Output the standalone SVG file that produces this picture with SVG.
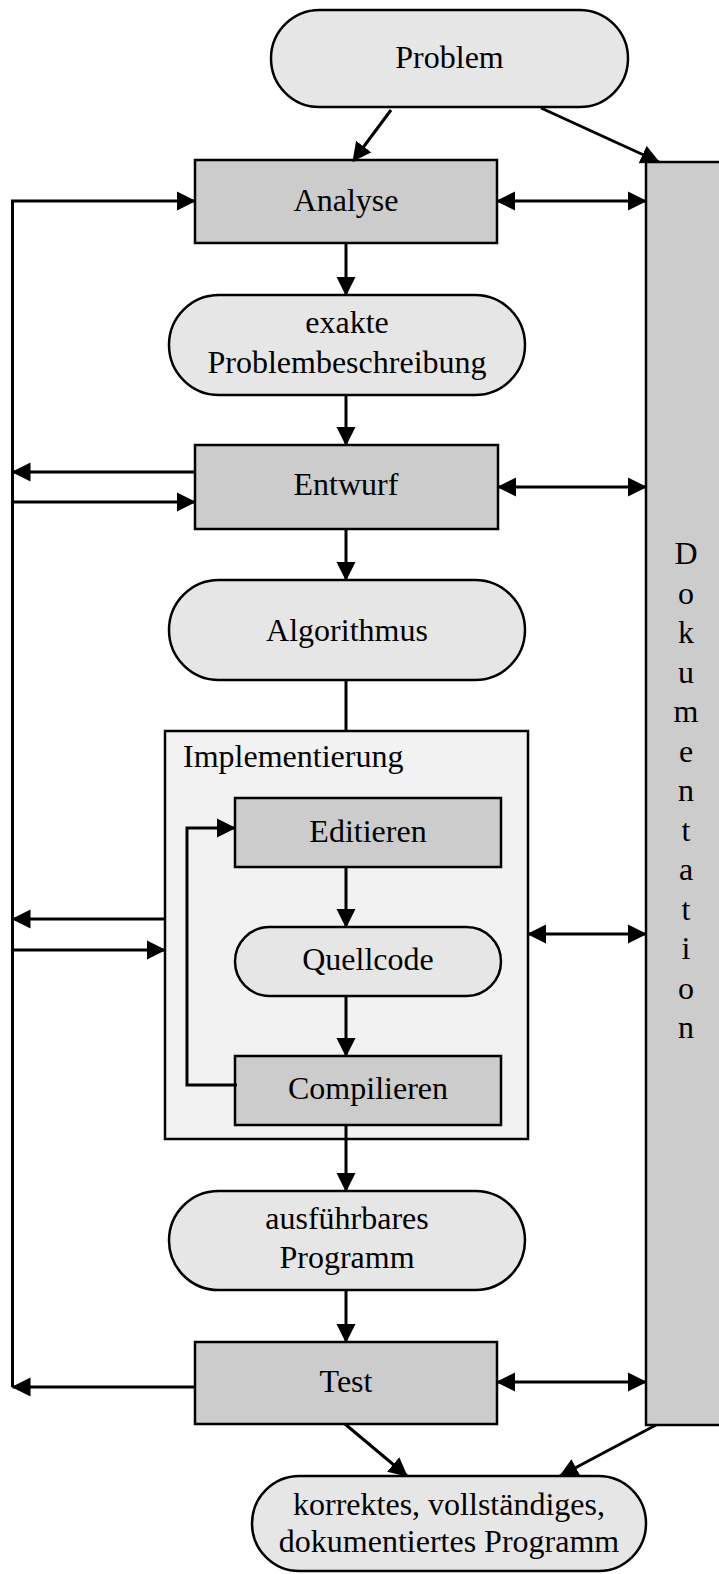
<svg xmlns="http://www.w3.org/2000/svg" width="719" height="1574" viewBox="0 0 719 1574">
  <style>
    .lbl { font-family: "Liberation Serif", "Times New Roman", serif; font-size: 32px; fill: #000; }
    .mid { text-anchor: middle; }
    .term { fill: #e6e6e6; stroke: #000; stroke-width: 2.5; }
    .step { fill: #cccccc; stroke: #000; stroke-width: 2.5; }
    .frame { fill: #f2f2f2; stroke: #000; stroke-width: 2.5; }
    .wire { fill: none; stroke: #000; stroke-width: 3; }
    .to { marker-end: url(#ah); }
    .both { marker-start: url(#ah); marker-end: url(#ah); }
  </style>
  <defs>
    <marker id="ah" markerUnits="userSpaceOnUse" viewBox="0 0 20 20" markerWidth="20" markerHeight="20" refX="18" refY="10" orient="auto-start-reverse">
      <path d="M0,0.5 L19,10 L0,19.5 z" fill="#000"/>
    </marker>
  </defs>

  <!-- documentation column on the right -->
  <g id="dokumentation">
    <rect class="step" x="646" y="162" width="90" height="1263"/>
    <g class="lbl mid">
      <text x="686" y="564">D</text>
      <text x="686" y="603.5">o</text>
      <text x="686" y="643">k</text>
      <text x="686" y="682.5">u</text>
      <text x="686" y="722">m</text>
      <text x="686" y="761.5">e</text>
      <text x="686" y="801">n</text>
      <text x="686" y="840.5">t</text>
      <text x="686" y="880">a</text>
      <text x="686" y="919.5">t</text>
      <text x="686" y="959">i</text>
      <text x="686" y="998.5">o</text>
      <text x="686" y="1038">n</text>
    </g>
  </g>

  <g id="problem">
    <rect class="term" x="271" y="10" width="357" height="97" rx="48.5"/>
    <text class="lbl mid" x="449.5" y="68">Problem</text>
  </g>

  <g id="analyse">
    <rect class="step" x="195" y="160" width="302" height="83"/>
    <text class="lbl mid" x="346" y="211">Analyse</text>
  </g>

  <g id="problembeschreibung">
    <rect class="term" x="169" y="295" width="356" height="100" rx="50"/>
    <text class="lbl mid" x="347" y="333">exakte</text>
    <text class="lbl mid" x="347" y="373">Problembeschreibung</text>
  </g>

  <g id="entwurf">
    <rect class="step" x="195" y="445" width="303" height="84"/>
    <text class="lbl mid" x="346" y="495">Entwurf</text>
  </g>

  <g id="algorithmus">
    <rect class="term" x="169" y="580" width="356" height="100" rx="50"/>
    <text class="lbl mid" x="347" y="641">Algorithmus</text>
  </g>

  <g id="implementierung">
    <rect class="frame" x="165" y="731" width="363" height="408"/>
    <text class="lbl" x="183" y="767">Implementierung</text>
  </g>

  <g id="editieren">
    <rect class="step" x="235" y="798" width="266" height="69"/>
    <text class="lbl mid" x="368" y="842">Editieren</text>
  </g>

  <g id="quellcode">
    <rect class="term" x="235" y="927" width="266" height="69" rx="34.5"/>
    <text class="lbl mid" x="368" y="970">Quellcode</text>
  </g>

  <g id="compilieren">
    <rect class="step" x="235" y="1056" width="266" height="69"/>
    <text class="lbl mid" x="368" y="1099">Compilieren</text>
  </g>

  <g id="programm">
    <rect class="term" x="169" y="1191" width="356" height="99" rx="49.5"/>
    <text class="lbl mid" x="347" y="1229">ausführbares</text>
    <text class="lbl mid" x="347" y="1268">Programm</text>
  </g>

  <g id="test">
    <rect class="step" x="195" y="1342" width="302" height="82"/>
    <text class="lbl mid" x="346" y="1392">Test</text>
  </g>

  <g id="ergebnis">
    <rect class="term" x="252" y="1476" width="394" height="95" rx="47.5"/>
    <text class="lbl mid" x="449" y="1515">korrektes, vollständiges,</text>
    <text class="lbl mid" x="449" y="1552">dokumentiertes Programm</text>
  </g>

  <g id="connectors">
    <!-- from the problem -->
    <line class="wire to" x1="391" y1="110" x2="353" y2="161"/>
    <line class="wire to" x1="541" y1="108" x2="659" y2="162"/>

    <!-- main flow -->
    <line class="wire to" x1="346" y1="243" x2="346" y2="295"/>
    <line class="wire to" x1="346" y1="395" x2="346" y2="445"/>
    <line class="wire to" x1="346" y1="529" x2="346" y2="580"/>
    <line class="wire" x1="346" y1="680" x2="346" y2="731"/>
    <line class="wire to" x1="346" y1="867" x2="346" y2="927"/>
    <line class="wire to" x1="346" y1="996" x2="346" y2="1056"/>
    <line class="wire to" x1="346" y1="1125" x2="346" y2="1191"/>
    <line class="wire to" x1="346" y1="1290" x2="346" y2="1342"/>

    <!-- edit/compile loop -->
    <path class="wire to" d="M237,1085 H187 V828 H235"/>

    <!-- exchange with the documentation -->
    <line class="wire both" x1="497" y1="201" x2="646" y2="201"/>
    <line class="wire both" x1="498" y1="487" x2="646" y2="487"/>
    <line class="wire both" x1="528" y1="934" x2="646" y2="934"/>
    <line class="wire both" x1="497" y1="1382" x2="646" y2="1382"/>

    <!-- feedback rail on the left -->
    <path class="wire to" d="M12.5,1387 V201 H195"/>
    <line class="wire to" x1="195" y1="1387" x2="12.5" y2="1387"/>
    <line class="wire to" x1="195" y1="472" x2="12.5" y2="472"/>
    <line class="wire to" x1="12.5" y1="502" x2="195" y2="502"/>
    <line class="wire to" x1="165" y1="919" x2="12.5" y2="919"/>
    <line class="wire to" x1="12.5" y1="950" x2="165" y2="950"/>

    <!-- into the final result -->
    <line class="wire to" x1="345" y1="1424" x2="407" y2="1476"/>
    <line class="wire to" x1="656" y1="1425" x2="560" y2="1476"/>
  </g>
</svg>
